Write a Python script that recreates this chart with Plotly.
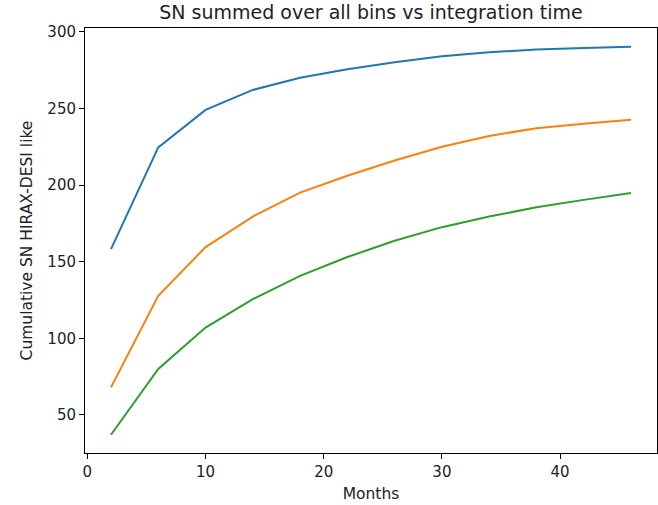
import plotly.graph_objects as go

months = [2, 6, 10, 14, 18, 22, 26, 30, 34, 38, 42, 46]
sn_blue = [158.2, 224.5, 249.0, 262.0, 270.0, 275.5, 280.0, 284.0, 286.6, 288.3, 289.4, 290.2]
sn_orange = [68.0, 127.7, 159.5, 179.4, 195.0, 206.0, 216.0, 225.0, 232.0, 237.0, 240.0, 242.6]
sn_green = [37.1, 80.0, 107.0, 125.5, 140.7, 153.0, 163.6, 172.5, 179.4, 185.5, 190.3, 194.8]

series = [(sn_blue, "#1f77b4"), (sn_orange, "#ff7f0e"), (sn_green, "#2ca02c")]

fig = go.Figure()
for vals, col in series:
    fig.add_trace(go.Scatter(x=months, y=vals, mode="lines",
                             line=dict(color=col, width=2), showlegend=False))

font = "DejaVu Sans"
axis_common = dict(showline=True, linecolor="black", linewidth=1, mirror=True,
                   ticks="outside", ticklen=5, tickcolor="black", tickwidth=1,
                   showgrid=False, zeroline=False,
                   tickfont=dict(family=font, size=15, color="#222"))

fig.update_layout(
    width=658, height=505,
    margin=dict(l=85, r=1, t=28, b=52),
    paper_bgcolor="white", plot_bgcolor="white",
    title=dict(text="SN summed over all bins vs integration time",
               x=(85 + 657) / 2 / 658, xanchor="center",
               y=1 - 12 / 505, yanchor="middle", yref="container",
               font=dict(family=font, size=19, color="#222")),
    xaxis=dict(range=[-0.2, 48.2], tickvals=[0, 10, 20, 30, 40],
               title=dict(text="Months", font=dict(family=font, size=15.5, color="#222"), standoff=8),
               **axis_common),
    yaxis=dict(range=[25.2, 302.4], tickvals=[50, 100, 150, 200, 250, 300],
               title=dict(text="Cumulative SN HIRAX-DESI like", font=dict(family=font, size=15.5, color="#222"), standoff=10),
               **axis_common),
)

fig.write_html("out.html")
